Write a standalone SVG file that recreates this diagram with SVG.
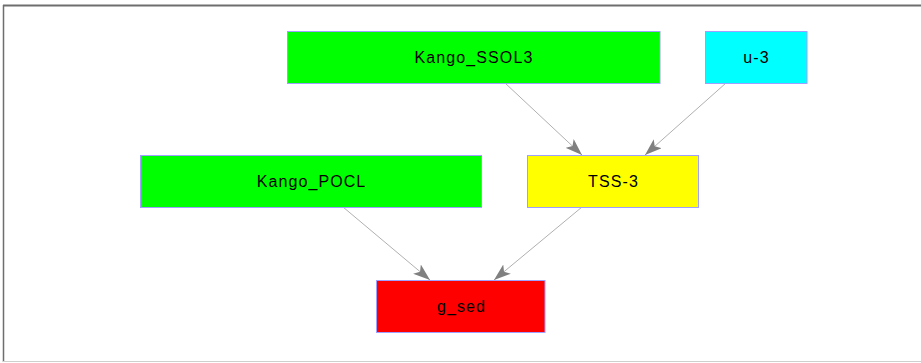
<svg xmlns="http://www.w3.org/2000/svg" width="921" height="363" viewBox="0 0 921 363">
  <style>
    .node rect { stroke: #9f9fff; stroke-width: 1; }
    .node text { font-family: "Liberation Sans", Arial, sans-serif; font-size: 16px; letter-spacing: 1.1px; fill: #000; text-anchor: middle; }
    .edge { stroke: #b0b0b0; stroke-width: 1; fill: none; marker-end: url(#arrow); }
  </style>
  <defs>
    <marker id="arrow" markerUnits="userSpaceOnUse" markerWidth="18" markerHeight="12" viewBox="0 0 18 12" refX="17" refY="6" orient="auto">
      <path d="M0,0 L17,6 L0,12 L4,6 Z" fill="#808080"/>
    </marker>
  </defs>

  <!-- frame -->
  <rect x="0" y="0" width="921" height="363" fill="#ffffff"/>
  <line x1="3" y1="5.5" x2="921" y2="5.5" stroke="#6e6e6e" stroke-width="2"/>
  <line x1="3.5" y1="5" x2="3.5" y2="362" stroke="#6e6e6e" stroke-width="1.5"/>
  <line x1="3" y1="361.5" x2="921" y2="361.5" stroke="#cfcfcf" stroke-width="1"/>

  <g id="edges">
    <line class="edge" x1="505" y1="83" x2="582" y2="155"/>
    <line class="edge" x1="726" y1="83" x2="645" y2="155"/>
    <line class="edge" x1="343" y1="207" x2="430" y2="280"/>
    <line class="edge" x1="582" y1="207" x2="494" y2="280"/>
  </g>

  <g id="Kango_SSOL3" class="node">
    <rect x="287.5" y="31.5" width="372.5" height="52" fill="#00ff00"/>
    <text x="474" y="62.5">Kango_SSOL3</text>
  </g>
  <g id="u-3" class="node">
    <rect x="705.5" y="31.5" width="101.5" height="52" fill="#00ffff"/>
    <text x="756.5" y="62.5">u-3</text>
  </g>
  <g id="Kango_POCL" class="node">
    <rect x="140.5" y="155.5" width="341" height="52" fill="#00ff00"/>
    <text x="311.5" y="186.5">Kango_POCL</text>
  </g>
  <g id="TSS-3" class="node">
    <rect x="527.5" y="155.5" width="171" height="52" fill="#ffff00"/>
    <text x="613.5" y="186.5">TSS-3</text>
  </g>
  <g id="g_sed" class="node">
    <rect x="376.5" y="280.5" width="168.5" height="52" fill="#ff0000"/>
    <text x="461.5" y="311.5">g_sed</text>
  </g>
</svg>
